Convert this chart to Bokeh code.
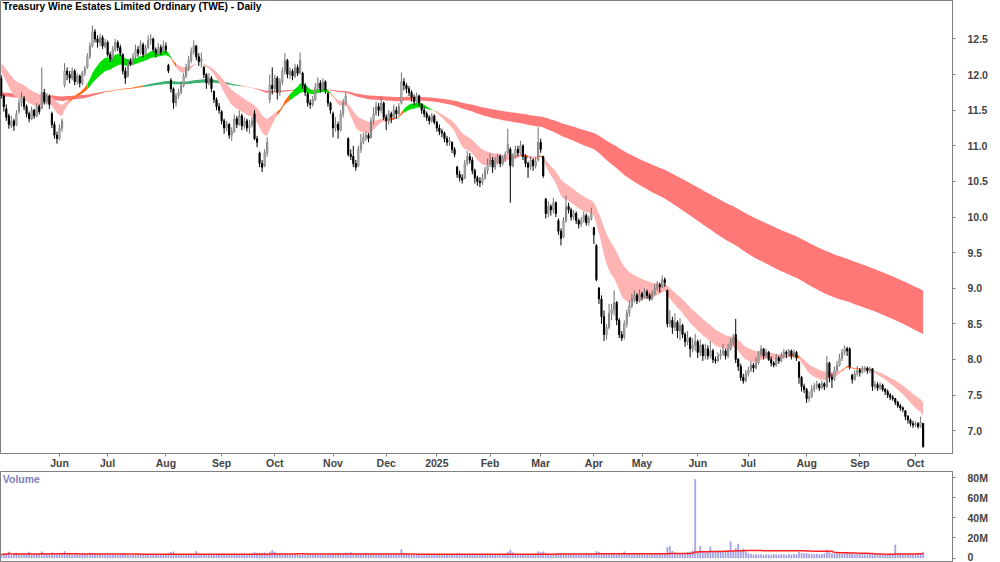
import numpy as np
from bokeh.plotting import figure
from bokeh.layouts import column
from bokeh.models import FixedTicker, Range1d, Label, ColumnDataSource
from bokeh.embed import file_html
from bokeh.resources import INLINE

# ---------------- data : (open, high, low, close) per trading day ----------------
may24 = [(11.95,11.99,11.66,11.70),(11.70,11.72,11.48,11.55),(11.52,11.58,11.35,11.40),(11.42,11.45,11.24,11.30),
         (11.28,11.42,11.25,11.35),(11.35,11.38,11.21,11.28),(11.30,11.50,11.28,11.45),(11.48,11.66,11.45,11.60),
         (11.60,11.75,11.55,11.68),(11.66,11.70,11.50,11.55),(11.55,11.58,11.40,11.45),(11.45,11.48,11.33,11.38),
         (11.38,11.55,11.36,11.50),(11.50,11.52,11.38,11.42),(11.42,11.60,11.40,11.55),(11.55,11.58,11.44,11.48),
         (11.52,12.10,11.52,11.75),(11.75,11.80,11.58,11.62),(11.62,11.74,11.58,11.70),(11.70,11.72,11.52,11.58),
         (11.45,11.48,11.25,11.30),(11.30,11.34,11.10,11.15),(11.15,11.20,11.03,11.10)]
jun24 = [(11.10,11.30,11.08,11.25),(11.25,11.38,11.20,11.35),(11.85,12.16,11.82,12.05),(12.05,12.10,11.92,12.00),
         (12.00,12.05,11.88,11.95),(11.95,12.10,11.92,12.05),(12.05,12.08,11.85,11.90),(11.90,12.02,11.86,11.98),
         (11.98,12.00,11.82,11.88),(11.88,12.05,11.85,12.02),(12.02,12.12,11.98,12.08),(12.10,12.30,12.08,12.25),
         (12.25,12.45,12.22,12.40),(12.40,12.69,12.38,12.60),(12.60,12.64,12.45,12.50),(12.50,12.55,12.38,12.45),
         (12.45,12.57,12.40,12.52),(12.52,12.55,12.36,12.40),(12.40,12.50,12.37,12.45)]
jul24 = [(12.45,12.48,12.25,12.28),(12.28,12.32,12.18,12.22),(12.22,12.40,12.20,12.35),(12.35,12.50,12.32,12.45),
         (12.45,12.48,12.33,12.38),(12.38,12.42,12.26,12.30),(12.28,12.30,12.00,12.05),(12.05,12.10,11.87,11.95),
         (11.98,12.22,11.96,12.18),(12.18,12.23,12.12,12.15),(12.15,12.30,12.13,12.25),(12.25,12.42,12.22,12.35),
         (12.35,12.40,12.25,12.30),(12.30,12.48,12.28,12.42),(12.42,12.45,12.24,12.28),(12.28,12.42,12.26,12.38),
         (12.38,12.55,12.36,12.48),(12.48,12.57,12.42,12.50),(12.50,12.52,12.32,12.35),(12.35,12.38,12.24,12.30),
         (12.30,12.44,12.28,12.38),(12.38,12.42,12.28,12.32),(12.32,12.48,12.30,12.40)]
aug24 = [(12.40,12.45,12.30,12.35),(12.13,12.15,12.02,12.05),(11.92,11.95,11.75,11.80),(11.80,11.82,11.52,11.60),
         (11.60,11.74,11.55,11.70),(11.70,11.80,11.66,11.75),(11.75,11.90,11.72,11.85),(11.85,12.02,11.82,11.98),
         (11.98,12.15,11.95,12.10),(12.10,12.26,12.05,12.20),(12.20,12.38,12.16,12.32),(12.32,12.48,12.28,12.40),
         (12.40,12.42,12.20,12.25),(12.25,12.30,12.12,12.18),(12.18,12.31,12.10,12.22),(12.10,12.12,11.95,12.00),
         (12.00,12.02,11.80,11.88),(11.88,12.02,11.85,11.95),(11.95,11.98,11.75,11.80),(11.76,11.78,11.60,11.65),
         (11.65,11.68,11.50,11.55),(11.55,11.60,11.45,11.50)]
sep24 = [(11.48,11.50,11.30,11.35),(11.35,11.38,11.17,11.25),(11.25,11.35,11.20,11.30),(11.30,11.32,11.10,11.15),
         (11.15,11.26,11.07,11.20),(11.20,11.44,11.18,11.38),(11.38,11.42,11.25,11.30),(11.30,11.50,11.28,11.42),
         (11.42,11.45,11.22,11.28),(11.28,11.40,11.24,11.35),(11.35,11.38,11.20,11.25),(11.25,11.36,11.17,11.30),
         (11.30,11.40,11.26,11.35),(11.45,11.50,11.08,11.10),(11.10,11.14,10.98,11.05),(10.90,10.92,10.70,10.75),
         (10.75,10.80,10.63,10.70),(10.72,10.95,10.70,10.90),(10.90,11.12,10.85,11.05),(11.65,12.00,11.60,11.85),
         (11.85,12.10,11.72,11.80)]
oct24 = [(11.80,12.00,11.76,11.95),(11.95,11.98,11.65,11.75),(11.75,11.95,11.70,11.90),(11.90,12.10,11.85,12.05),
         (12.05,12.30,12.00,12.20),(12.20,12.22,11.95,12.00),(12.00,12.10,11.94,12.05),(12.05,12.08,11.92,11.98),
         (11.98,12.15,11.95,12.10),(12.10,12.14,11.98,12.02),(12.02,12.31,12.00,12.20),(12.02,12.04,11.80,11.85),
         (11.85,11.88,11.70,11.75),(11.73,11.75,11.55,11.60),(11.60,11.65,11.52,11.58),(11.58,11.70,11.55,11.65),
         (11.65,11.88,11.63,11.82),(11.82,11.96,11.78,11.88),(11.88,11.92,11.75,11.80),(11.80,11.95,11.78,11.90),
         (11.90,11.92,11.73,11.78),(11.73,11.75,11.55,11.60),(11.60,11.62,11.45,11.50)]
nov24 = [(11.45,11.48,11.12,11.25),(11.25,11.40,11.20,11.30),(11.30,11.34,11.10,11.22),(11.22,11.50,11.20,11.45),
         (11.45,11.66,11.40,11.60),(11.60,11.75,11.56,11.70),(11.10,11.12,10.85,10.88),(10.88,10.95,10.80,10.85),
         (10.85,11.00,10.70,10.75),(10.75,10.80,10.65,10.70),(10.72,11.00,10.70,10.95),(10.95,11.17,10.90,11.05),
         (11.05,11.18,11.02,11.12),(11.12,11.20,11.07,11.15),(11.15,11.18,11.05,11.10),(11.12,11.40,11.10,11.35),
         (11.35,11.54,11.30,11.45),(11.45,11.62,11.42,11.55),(11.55,11.60,11.42,11.50),(11.50,11.68,11.46,11.60),
         (11.60,11.62,11.36,11.40)]
dec24 = [(11.40,11.44,11.22,11.35),(11.35,11.50,11.30,11.45),(11.45,11.48,11.32,11.40),(11.40,11.58,11.36,11.50),
         (11.50,11.55,11.38,11.45),(11.45,11.60,11.42,11.55),(11.60,12.03,11.58,11.90),(11.90,11.95,11.78,11.85),
         (11.85,11.88,11.74,11.80),(11.80,11.84,11.70,11.75),(11.75,11.78,11.62,11.68),(11.68,11.72,11.57,11.62),
         (11.62,11.75,11.60,11.70),(11.70,11.72,11.56,11.60),(11.58,11.60,11.45,11.50),(11.50,11.54,11.40,11.45),
         (11.45,11.48,11.35,11.40),(11.40,11.43,11.30,11.35),(11.35,11.46,11.32,11.42),(11.42,11.44,11.30,11.33)]
jan25 = [(11.33,11.35,11.20,11.25),(11.25,11.30,11.15,11.20),(11.20,11.24,11.12,11.18),(11.18,11.20,11.05,11.10),
         (11.10,11.14,11.00,11.05),(11.05,11.12,11.00,11.08),(11.05,11.06,10.90,10.95),(10.95,10.98,10.84,10.88),
         (10.70,10.72,10.55,10.60),(10.60,10.65,10.50,10.55),(10.55,10.60,10.47,10.52),(10.55,10.80,10.53,10.75),
         (10.75,10.93,10.72,10.85),(10.85,10.90,10.75,10.80),(10.80,10.84,10.60,10.65),(10.65,10.68,10.47,10.55),
         (10.55,10.58,10.44,10.50),(10.50,10.56,10.42,10.48),(10.48,10.61,10.45,10.55),(10.55,10.70,10.52,10.65),
         (10.65,10.82,10.60,10.75)]
feb25 = [(10.75,10.89,10.70,10.80),(10.80,10.84,10.62,10.70),(10.70,10.84,10.66,10.78),(10.78,10.89,10.74,10.85),
         (10.85,10.88,10.70,10.75),(10.75,10.86,10.72,10.82),(10.82,10.92,10.78,10.88),(10.90,11.24,10.88,11.02),
         (10.95,10.98,10.20,10.72),(10.72,10.90,10.70,10.85),(10.85,11.00,10.82,10.95),(10.95,11.00,10.85,10.90),
         (10.90,11.07,10.88,11.00),(11.00,11.02,10.80,10.85),(10.85,10.88,10.70,10.75),(10.75,10.78,10.55,10.70),
         (10.70,10.85,10.66,10.80),(10.80,10.82,10.65,10.72),(10.72,10.84,10.68,10.78),(10.80,11.26,10.78,11.05)]
mar25 = [(11.05,11.10,10.90,10.95),(10.85,10.86,10.55,10.58),(10.25,10.27,9.98,10.05),(10.05,10.22,10.00,10.15),
         (10.15,10.18,10.02,10.10),(10.10,10.27,10.05,10.20),(10.20,10.22,10.00,10.05),(9.95,9.98,9.75,9.80),
         (9.80,9.84,9.60,9.70),(9.72,10.00,9.70,9.95),(9.95,10.30,9.92,10.15),(10.15,10.20,10.05,10.10),
         (10.10,10.13,9.95,10.00),(10.00,10.10,9.96,10.05),(10.05,10.08,9.90,9.95),(9.95,9.98,9.84,9.90),
         (9.90,10.00,9.86,9.95),(9.95,10.08,9.92,10.02),(10.02,10.05,9.88,9.92),(9.92,10.02,9.88,9.98),
         (9.98,10.13,9.95,10.05)]
apr25 = [(9.85,9.86,9.62,9.75),(9.60,9.62,9.10,9.12),(9.00,9.02,8.78,8.85),(8.85,8.90,8.50,8.60),
         (8.60,8.69,8.26,8.35),(8.35,8.50,8.28,8.45),(8.45,8.78,8.42,8.65),(8.65,8.78,8.55,8.70),
         (8.70,8.97,8.62,8.80),(8.80,8.82,8.48,8.55),(8.55,8.58,8.30,8.35),(8.35,8.40,8.26,8.30),
         (8.32,8.55,8.28,8.50),(8.50,8.70,8.45,8.65),(8.65,8.83,8.60,8.75),(8.75,8.92,8.72,8.85),
         (8.85,8.97,8.80,8.90),(8.90,8.93,8.78,8.82),(8.82,8.98,8.80,8.92)]
may25 = [(8.92,8.95,8.83,8.88),(8.88,9.00,8.85,8.95),(8.95,8.98,8.85,8.90),(8.90,8.93,8.82,8.85),
         (8.85,8.97,8.83,8.92),(8.92,9.06,8.90,9.00),(9.00,9.10,8.96,9.05),(9.05,9.08,8.94,9.02),
         (9.02,9.18,9.00,9.12),(9.12,9.15,9.02,9.08),(8.97,8.98,8.45,8.50),(8.50,8.69,8.45,8.55),
         (8.55,8.60,8.36,8.45),(8.45,8.65,8.40,8.52),(8.52,8.55,8.30,8.40),(8.40,8.58,8.27,8.48),
         (8.48,8.50,8.30,8.35),(8.35,8.38,8.18,8.25),(8.25,8.40,8.20,8.30),(8.30,8.32,8.03,8.15),
         (8.15,8.30,8.10,8.20),(8.20,8.36,8.12,8.25)]
jun25 = [(8.25,8.28,8.02,8.10),(8.10,8.28,8.05,8.20),(8.20,8.22,7.98,8.05),(8.05,8.22,8.00,8.15),
         (8.15,8.20,8.00,8.05),(8.05,8.26,8.02,8.12),(8.12,8.15,7.95,8.00),(8.00,8.04,7.94,7.98),
         (7.98,8.10,7.96,8.05),(8.05,8.14,8.00,8.08),(8.08,8.22,8.05,8.12),(8.12,8.15,8.00,8.05),
         (8.05,8.22,8.02,8.15),(8.15,8.30,8.12,8.25),(8.25,8.36,8.20,8.30),(8.35,8.57,7.95,8.00),
         (8.00,8.02,7.84,7.90),(7.90,7.94,7.70,7.75),(7.75,7.80,7.66,7.70),(7.70,7.85,7.68,7.80)]
jul25 = [(7.80,7.90,7.76,7.85),(7.85,7.98,7.82,7.92),(7.92,7.95,7.82,7.88),(7.88,8.03,7.86,7.95),
         (7.95,8.12,7.93,8.08),(8.08,8.20,8.04,8.15),(8.15,8.16,8.00,8.05),(8.05,8.15,8.02,8.10),
         (8.10,8.12,7.98,8.00),(8.00,8.04,7.90,7.95),(7.95,7.98,7.89,7.92),(7.92,8.08,7.90,8.02),
         (8.02,8.05,7.94,7.98),(7.98,8.10,7.96,8.05),(8.05,8.15,8.02,8.10),(8.10,8.13,8.02,8.08),
         (8.08,8.15,8.04,8.12),(8.12,8.14,8.00,8.05),(8.05,8.14,8.02,8.10),(8.10,8.12,7.98,8.02),
         (7.96,7.98,7.66,7.75),(7.75,7.77,7.55,7.62),(7.62,7.66,7.53,7.58)]
aug25 = [(7.58,7.60,7.39,7.45),(7.45,7.55,7.40,7.48),(7.48,7.64,7.46,7.58),(7.58,7.67,7.54,7.62),
         (7.62,7.70,7.58,7.65),(7.65,7.67,7.56,7.60),(7.60,7.70,7.58,7.66),(7.66,7.68,7.57,7.62),
         (7.62,8.05,7.60,7.95),(7.95,7.97,7.68,7.75),(7.75,7.80,7.60,7.72),(7.72,7.90,7.70,7.85),
         (7.85,7.98,7.82,7.92),(7.92,8.08,7.90,8.02),(8.02,8.15,7.98,8.10),(8.10,8.20,8.06,8.15),
         (8.15,8.18,8.05,8.12),(8.15,8.17,7.86,7.90),(7.78,7.80,7.66,7.72),(7.72,7.85,7.70,7.80),
         (7.80,7.91,7.76,7.85)]
sep25 = [(7.85,7.88,7.76,7.82),(7.82,7.91,7.80,7.86),(7.86,7.91,7.82,7.88),(7.88,7.90,7.80,7.84),
         (7.84,7.90,7.81,7.87),(7.87,7.88,7.56,7.62),(7.62,7.70,7.58,7.65),(7.65,7.68,7.56,7.60),
         (7.60,7.68,7.57,7.64),(7.64,7.66,7.55,7.58),(7.58,7.60,7.50,7.55),(7.55,7.58,7.46,7.50),
         (7.50,7.53,7.43,7.47),(7.47,7.50,7.42,7.45),(7.45,7.46,7.36,7.40),(7.40,7.42,7.32,7.35),
         (7.35,7.38,7.28,7.32),(7.32,7.34,7.26,7.30),(7.28,7.29,7.15,7.20),(7.20,7.22,7.10,7.15),
         (7.15,7.17,7.06,7.10),(7.10,7.14,7.04,7.08)]
oct25 = [(7.08,7.13,7.05,7.10),(7.10,7.12,7.03,7.06),(7.06,7.20,7.04,7.12),(7.10,7.11,6.76,6.78)]

# daily volume, millions of shares
vol_may24 = [3.5,4.2,3.8,6.0,3.2,3.6,4.5,3.1,3.9,4.8,3.4,5.8,3.0,3.7,4.1,3.3,6.2,3.8,3.5,4.4,5.2,3.9,4.6]
vol_jun24 = [3.8,4.1,6.5,4.0,3.6,3.2,3.9,3.4,3.1,3.8,4.3,3.5,5.0,4.4,3.7,3.2,3.5,2.9,3.6]
vol_jul24 = [3.3,3.0,3.6,3.1,2.8,3.4,4.6,3.9,3.0,2.7,3.2,2.9,3.5,3.1,2.6,3.0,3.3,2.8,3.4,3.0,2.7,3.2,3.1]
vol_aug24 = [3.4,4.8,5.6,6.2,4.1,3.7,3.3,3.5,3.0,3.6,3.2,3.9,6.5,4.4,3.8,4.0,3.5,3.9,4.3,3.6,3.8,4.1]
vol_sep24 = [3.7,4.0,3.6,3.3,3.9,4.2,3.5,3.8,3.4,3.6,3.2,3.9,4.4,5.5,5.0,4.6,4.8,5.2,4.5,5.8,7.5]
vol_oct24 = [6.0,4.2,3.8,3.5,3.9,3.3,3.6,3.1,3.4,3.7,3.0,3.2,3.5,2.9,3.3,3.1,3.6,3.0,3.4,3.8,3.2,3.5,4.0]
vol_nov24 = [4.3,3.6,4.8,4.1,3.9,5.2,4.6,5.5,4.0,3.7,4.4,3.9,4.2,5.0,3.6,3.8,4.1,3.5,3.9,4.4,3.7]
vol_dec24 = [3.5,3.8,3.2,3.6,4.0,3.4,8.5,4.6,3.9,3.5,3.3,3.0,2.8,3.1,2.6,2.4,2.9,3.2,2.7,3.0]
vol_jan25 = [2.8,3.1,3.3,3.0,3.6,3.2,3.5,3.9,4.4,3.8,3.4,3.6,3.9,3.3,3.7,3.1,3.5,3.8,4.2,3.6,4.0]
vol_feb25 = [3.9,3.4,3.7,3.2,3.5,3.8,4.1,5.6,8.0,5.2,4.3,3.9,3.6,3.4,3.8,3.5,3.2,3.6,3.9,6.2]
vol_mar25 = [5.5,6.1,5.0,4.2,3.9,3.7,4.4,4.8,4.0,3.6,3.5,3.8,4.1,3.9,3.6,3.4,3.7,3.5,3.9,4.0,3.8]
vol_apr25 = [4.2,6.5,5.8,4.9,4.5,4.0,3.8,4.3,3.9,3.6,4.1,3.7,6.2,4.5,4.0,3.9,4.2,3.8,4.4]
vol_may25 = [4.0,3.7,4.1,3.8,3.5,3.9,3.6,4.2,3.8,4.5,10.5,11.5,6.8,5.2,4.8,4.5,5.0,4.6,5.5,6.0,7.2,78.0]
vol_jun25 = [6.5,11.5,6.0,5.5,6.2,11.0,6.5,5.8,7.5,6.3,5.9,6.6,7.2,16.0,7.0,9.5,14.0,8.0,9.0,6.5]
vol_jul25 = [4.5,3.8,3.2,3.6,3.0,3.4,2.9,3.3,3.1,2.8,3.5,3.2,3.0,3.6,3.3,2.9,3.4,3.1,3.7,3.5,5.5,4.8,4.2]
vol_aug25 = [4.6,4.0,3.7,3.5,3.9,3.3,3.6,4.2,8.0,5.5,4.4,4.0,4.6,4.3,3.9,4.5,5.0,4.1,3.8,3.6,4.0]
vol_sep25 = [3.9,3.6,3.4,3.8,3.5,4.4,3.7,3.3,3.6,3.2,3.5,3.4,3.8,3.6,13.0,3.9,4.2,3.8,3.5,3.7,3.4,3.6]
vol_oct25 = [3.8,4.1,4.5,6.0]

month_bars = [may24, jun24, jul24, aug24, sep24, oct24, nov24, dec24, jan25, feb25, mar25,
              apr25, may25, jun25, jul25, aug25, sep25, oct25]
month_vols = [vol_may24, vol_jun24, vol_jul24, vol_aug24, vol_sep24, vol_oct24, vol_nov24, vol_dec24,
              vol_jan25, vol_feb25, vol_mar25, vol_apr25, vol_may25, vol_jun25, vol_jul25, vol_aug25,
              vol_sep25, vol_oct25]
month_labels = ["", "Jun", "Jul", "Aug", "Sep", "Oct", "Nov", "Dec", "2025", "Feb", "Mar",
                "Apr", "May", "Jun", "Jul", "Aug", "Sep", "Oct"]

price_ticks = [7.0, 7.5, 8.0, 8.5, 9.0, 9.5, 10.0, 10.5, 11.0, 11.5, 12.0, 12.5]
volume_ticks = [0, 20e6, 40e6, 60e6, 80e6]
volume_tick_labels = ["0", "20M", "40M", "60M", "80M"]

short_periods = [15, 18, 21, 24, 27, 30]
short_seed = [12.08, 12.10, 12.13, 12.15, 12.17, 12.19]
long_periods = [145, 162, 179, 196, 213, 230]
long_seed = [11.70, 11.71, 11.72, 11.73, 11.74, 11.75]
vol_avg_period = 55

# ---------------- assemble ----------------
bars = [b for m in month_bars for b in m]
opens = np.array([b[0] for b in bars])
highs = np.array([b[1] for b in bars])
lows = np.array([b[2] for b in bars])
closes = np.array([b[3] for b in bars])
vols = np.array([v for m in month_vols for v in m]) * 1e6
n = len(bars)
idx = np.arange(n)

starts = np.cumsum([0] + [len(m) for m in month_bars[:-1]])
tick_pos = [int(s) for s, lab in zip(starts, month_labels) if lab]
tick_lab = {int(s): lab for s, lab in zip(starts, month_labels) if lab}


def ema(vals, period, seed):
    a = 2.0 / (period + 1)
    e = seed
    out = []
    for v in vals:
        e = e + a * (v - e)
        out.append(e)
    return np.array(out)


def group(periods, seeds):
    arr = np.vstack([ema(closes, p, s) for p, s in zip(periods, seeds)])
    lo = arr.min(axis=0)
    hi = arr.max(axis=0)
    state = []
    for k in range(arr.shape[1]):
        d = np.diff(arr[:, k])
        if np.all(d < 0):
            state.append("up")
        elif np.all(d > 0):
            state.append("down")
        else:
            state.append("mix")
    return lo, hi, state


W = 1000
FRAME_R = 48
FONT = "Liberation Sans"

p = figure(width=W, height=471, x_range=Range1d(-0.3, 375.6), y_range=Range1d(6.68, 13.04),
           output_backend="svg", toolbar_location=None, y_axis_location="right",
           min_border_left=0, min_border_right=FRAME_R, min_border_top=0, min_border_bottom=0)
p.xgrid.visible = False
p.ygrid.visible = False
p.outline_line_color = "#808080"
p.background_fill_color = "white"


def draw_band(fig, lo, hi, state, palette):
    start = 0
    for k in range(1, n + 1):
        if k == n or state[k] != state[start]:
            end = min(k, n - 1)
            sl = slice(start, end + 1)
            fig.varea(x=idx[sl], y1=lo[sl], y2=hi[sl], fill_color=palette[state[start]], fill_alpha=1.0)
            start = k


llo, lhi, lstate = group(long_periods, long_seed)
slo, shi, sstate = group(short_periods, short_seed)
draw_band(p, llo, lhi, lstate, {"up": "#3CB371", "down": "#FF7878", "mix": "#FF6A1A"})
draw_band(p, slo, shi, sstate, {"up": "#00E000", "down": "#FFB4B4", "mix": "#FF6A1A"})

up = closes >= opens
src_up = ColumnDataSource(dict(x=idx[up], o=opens[up], h=highs[up], l=lows[up], c=closes[up]))
src_dn = ColumnDataSource(dict(x=idx[~up], o=opens[~up], h=highs[~up], l=lows[~up], c=closes[~up]))
p.segment(x0="x", y0="l", x1="x", y1="h", source=src_up, line_color="#707070", line_width=1)
p.segment(x0="x", y0="l", x1="x", y1="h", source=src_dn, line_color="black", line_width=1)
p.vbar(x="x", width=0.45, top="c", bottom="o", source=src_up, fill_color="white", line_color="#808080", line_width=1)
p.vbar(x="x", width=0.45, top="o", bottom="c", source=src_dn, fill_color="black", line_color="black", line_width=1)

p.yaxis.ticker = FixedTicker(ticks=price_ticks)
p.yaxis.major_label_overrides = {t: f"{t:.1f}" for t in price_ticks}
p.yaxis.major_label_text_font = FONT
p.yaxis.major_label_text_font_style = "bold"
p.yaxis.major_label_text_font_size = "10.5px"
p.yaxis.major_label_standoff = 12
p.yaxis.major_tick_in = 0
p.yaxis.major_tick_out = 3
p.yaxis.minor_tick_line_color = None
p.yaxis.axis_line_color = "#808080"
p.yaxis.major_tick_line_color = "#808080"

p.xaxis.ticker = FixedTicker(ticks=tick_pos)
p.xaxis.major_label_overrides = tick_lab
p.xaxis.major_label_text_align = "left"
p.xaxis.major_label_text_font = FONT
p.xaxis.major_label_text_font_style = "bold"
p.xaxis.major_label_text_font_size = "10.5px"
p.xaxis.major_label_standoff = 0
p.xaxis.major_tick_in = 0
p.xaxis.major_tick_out = 3
p.xaxis.minor_tick_line_color = None
p.xaxis.axis_line_color = "#808080"
p.xaxis.major_tick_line_color = "#808080"

p.add_layout(Label(x=0.6, y=13.03, text="Treasury Wine Estates Limited Ordinary (TWE) - Daily",
                   text_font=FONT, text_font_style="bold", text_font_size="10.2px",
                   text_baseline="top", text_align="left", text_color="black"))

# ---------------- volume panel ----------------
q = figure(width=W, height=91, x_range=p.x_range, y_range=Range1d(-4.47e6, 85.96e6),
           output_backend="svg", toolbar_location=None, y_axis_location="right",
           min_border_left=0, min_border_right=FRAME_R, min_border_top=0, min_border_bottom=0)
q.xgrid.visible = False
q.ygrid.visible = False
q.xaxis.visible = False
q.outline_line_color = "#808080"
q.vbar(x=idx, width=0.4, top=vols, bottom=0, fill_color="#9A9AE0", line_color="#9A9AE0", line_width=0.6)

vavg = np.array([vols[max(0, k - vol_avg_period + 1):k + 1].mean() for k in range(n)])
q.line(idx, vavg, line_color="#FF2020", line_width=1.5)

q.yaxis.ticker = FixedTicker(ticks=volume_ticks)
q.yaxis.major_label_overrides = dict(zip(volume_ticks, volume_tick_labels))
q.yaxis.major_label_text_font = FONT
q.yaxis.major_label_text_font_style = "bold"
q.yaxis.major_label_text_font_size = "10.5px"
q.yaxis.major_label_standoff = 12
q.yaxis.major_tick_in = 0
q.yaxis.major_tick_out = 3
q.yaxis.minor_tick_line_color = None
q.yaxis.axis_line_color = "#808080"
q.yaxis.major_tick_line_color = "#808080"
q.add_layout(Label(x=0.6, y=84e6, text="Volume", text_font=FONT, text_font_style="bold",
                   text_font_size="10.5px", text_baseline="top", text_align="left", text_color="#8080C0"))

layout = column(p, q, spacing=0)
open("out.html", "w").write(file_html(layout, INLINE))
